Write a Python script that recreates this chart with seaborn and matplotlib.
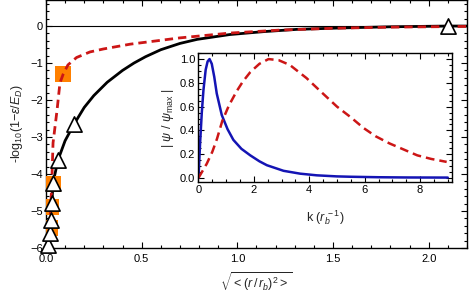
import numpy as np
import pandas as pd
import matplotlib
matplotlib.use("Agg")
import matplotlib.pyplot as plt
import seaborn as sns
from matplotlib.ticker import MultipleLocator

# main panel: black solid curve (through the triangles)
black_x = [0.0, 0.01, 0.021, 0.026, 0.031, 0.037, 0.063, 0.10, 0.147, 0.2, 0.25, 0.32,
           0.4, 0.46, 0.52, 0.6, 0.7, 0.79, 0.96, 1.14, 1.31, 1.55, 1.8, 2.10, 2.2]
black_y = [-6.0, -5.92, -5.6, -5.24, -4.78, -4.24, -3.62, -3.1, -2.65, -2.2, -1.88, -1.52,
           -1.2, -1.0, -0.83, -0.64, -0.47, -0.36, -0.23, -0.15, -0.09, -0.05, -0.02, 0.0, 0.0]

# main panel: red dashed curve (through the squares)
red_x = [0.02, 0.03, 0.037, 0.058, 0.073, 0.09, 0.115, 0.16, 0.23, 0.30, 0.44, 0.70,
         0.96, 1.22, 1.5, 1.8, 2.2]
red_y = [-5.45, -4.3, -3.16, -2.27, -1.54, -1.3, -1.05, -0.85, -0.70, -0.62, -0.49, -0.32,
         -0.19, -0.11, -0.06, -0.03, -0.01]

tri_x = [0.01, 0.021, 0.026, 0.031, 0.037, 0.063, 0.147, 2.10]
tri_y = [-5.92, -5.6, -5.24, -4.78, -4.24, -3.62, -2.65, 0.0]

sq_x = [0.09, 0.037, 0.028, 0.022]
sq_y = [-1.3, -4.27, -4.9, -5.45]

# inset: normalised wavefunctions in k space
blue_k = [0.0, 0.06, 0.12, 0.18, 0.26, 0.33, 0.40, 0.48, 0.57, 0.66, 0.84, 1.05, 1.26,
          1.55, 1.87, 2.2, 2.47, 3.07, 3.67, 4.27, 5.0, 5.5, 6.5, 7.5, 9.0]
blue_v = [0.0, 0.30, 0.55, 0.74, 0.91, 0.98, 1.0, 0.96, 0.85, 0.71, 0.53, 0.41, 0.32,
          0.245, 0.19, 0.14, 0.107, 0.06, 0.036, 0.022, 0.013, 0.01, 0.006, 0.004, 0.003]
red_k = [0.0, 0.3, 0.5, 0.67, 0.86, 1.1, 1.38, 1.6, 1.87, 2.2, 2.53, 2.9, 3.3, 3.9, 4.4,
         5.0, 5.5, 5.96, 6.4, 6.9, 7.4, 7.9, 8.4, 8.96]
red_v = [0.0, 0.12, 0.22, 0.33, 0.48, 0.61, 0.73, 0.81, 0.89, 0.96, 1.0, 0.99, 0.95, 0.84,
         0.73, 0.60, 0.51, 0.42, 0.35, 0.29, 0.24, 0.19, 0.16, 0.135]

RED = "#cc1616"
BLUE = "#1414b4"
ORANGE = "#ff8000"

sns.set_style("ticks")
plt.rcParams["font.family"] = ["Liberation Sans", "DejaVu Sans"]
plt.rcParams["mathtext.fontset"] = "custom"
plt.rcParams["mathtext.rm"] = "Liberation Sans"
plt.rcParams["mathtext.it"] = "Liberation Sans:italic"
plt.rcParams["mathtext.bf"] = "Liberation Sans:bold"


def style_ticks(ax, xmaj, xmin, ymaj, ymin):
    ax.xaxis.set_major_locator(MultipleLocator(xmaj))
    ax.xaxis.set_minor_locator(MultipleLocator(xmin))
    ax.yaxis.set_major_locator(MultipleLocator(ymaj))
    ax.yaxis.set_minor_locator(MultipleLocator(ymin))
    ax.tick_params(which="both", direction="in", top=True, right=True,
                   width=0.8, labelsize=8, pad=2, colors="black")
    ax.tick_params(which="major", length=4)
    ax.tick_params(which="minor", length=2.2)
    for s in ax.spines.values():
        s.set_linewidth(1.0)
        s.set_color("black")


fig = plt.figure(figsize=(4.69, 3.03), dpi=100)
ax = fig.add_axes([0.098, 0.1815, 0.8977, 0.818])

ax.axhline(0, color="black", lw=0.8, zorder=1)

sns.lineplot(x=black_x, y=black_y, sort=False, estimator=None, color="black", lw=2.0, ax=ax, zorder=2)
sns.scatterplot(x=sq_x, y=sq_y, marker="s", s=130, color=ORANGE, linewidth=0, ax=ax, zorder=3)
sns.lineplot(x=red_x, y=red_y, sort=False, estimator=None, color=RED, lw=2.0, ax=ax, zorder=4)
ax.lines[-1].set_dashes([3.0, 1.8])
sns.scatterplot(x=tri_x, y=tri_y, marker="^", s=120, facecolor="white", edgecolor="black",
                linewidth=1.2, ax=ax, zorder=5, clip_on=False)

ax.set_xlim(0, 2.2)
ax.set_ylim(-6, 0.7)
style_ticks(ax, 0.5, 0.1, 1, 0.2)
ax.tick_params(axis="x", pad=4)
ax.set_xticks([0.0, 0.5, 1.0, 1.5, 2.0])
ax.set_xticklabels(["0.0", "0.5", "1.0", "1.5", "2.0"])
ax.set_yticks([-6, -5, -4, -3, -2, -1, 0])
ax.set_xlabel(r"$\sqrt{<(r\,/\,r_b)^2>}$", fontsize=9, labelpad=5)
ax.set_ylabel(r"-log$_{10}$(1$-\epsilon/E_D$)", fontsize=9, labelpad=4)

ins = fig.add_axes([0.422, 0.399, 0.5416, 0.4257])
sns.lineplot(x=blue_k, y=blue_v, sort=False, estimator=None, color=BLUE, lw=1.8, ax=ins)
sns.lineplot(x=red_k, y=red_v, sort=False, estimator=None, color=RED, lw=1.8, ax=ins)
ins.lines[-1].set_dashes([3.5, 2.0])
ins.set_xlim(-0.02, 9.15)
ins.set_ylim(-0.035, 1.05)
style_ticks(ins, 2, 0.5, 0.2, 0.05)
ins.set_yticks([0.0, 0.2, 0.4, 0.6, 0.8, 1.0])
ins.set_yticklabels(["0.0", "0.2", "0.4", "0.6", "0.8", "1.0"])
ins.set_xlabel(r"k ($r_b^{\,-1}$)", fontsize=9, labelpad=10)
ins.set_ylabel(r"| $\psi$ / $\psi_{\rm max}$ |", fontsize=9, labelpad=3)

fig.savefig("out.png", dpi=100)
